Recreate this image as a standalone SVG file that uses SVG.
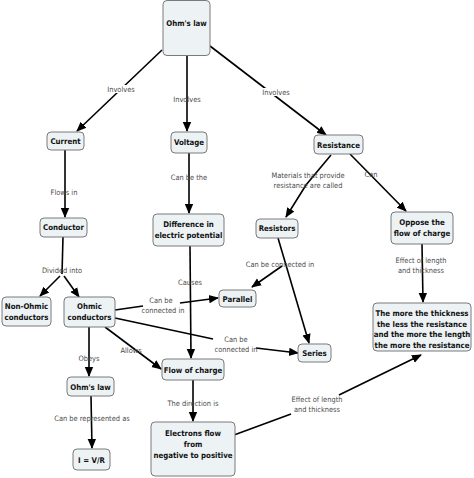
<svg xmlns="http://www.w3.org/2000/svg" width="474" height="478" viewBox="0 0 474 478">
<defs>
<marker id="ah" markerUnits="userSpaceOnUse" markerWidth="10" markerHeight="10" viewBox="0 0 10 10" refX="9" refY="5" orient="auto">
<path d="M0,0.8 L10,5 L0,9.2 Z" fill="#000"/>
</marker>
<style>
.n rect{fill:#edf2f5;stroke:#7a7a7a;stroke-width:1}
.n text{font-family:"DejaVu Sans Condensed","DejaVu Sans",sans-serif;font-weight:bold;font-size:7.8px;fill:#111;text-anchor:middle}
.c path{fill:none;stroke:#000;stroke-width:1.6}
.c .a{marker-end:url(#ah)}
.l rect{fill:#fff}
.l text{font-family:"DejaVu Sans Condensed","DejaVu Sans",sans-serif;font-size:7.4px;fill:#4a4a4a;text-anchor:middle}
</style>
</defs>
<rect width="474" height="478" fill="#fff"/>
<g id="connectors" class="c">
<path class="a" d="M162,50 L77,131"/>
<path class="a" d="M187,56 L187,131"/>
<path class="a" d="M210,46 L326,135"/>
<path class="a" d="M65,150 L65,217"/>
<path class="a" d="M189,153 L189,213"/>
<path d="M63,237 L62,274"/>
<path class="a" d="M60,276 L40,296"/>
<path class="a" d="M64,276 L79,297"/>
<path class="a" d="M331,155 L306,185 L286,217"/>
<path class="a" d="M350,154 L406,211"/>
<path class="a" d="M422,244 L423,302"/>
<path class="a" d="M278,238 L309,343"/>
<path class="a" d="M282,266 L252,287"/>
<path class="a" d="M190,246 L191,358"/>
<path d="M115,310 L143,306"/>
<path class="a" d="M180,303 L218,298"/>
<path d="M115,318 L213,339"/>
<path class="a" d="M256,348 L298,353"/>
<path class="a" d="M89,327 L89,376"/>
<path class="a" d="M105,327 L161,369"/>
<path class="a" d="M91,396 L92,448"/>
<path class="a" d="M193,380 L193,421"/>
<path d="M234,435 L291,414"/>
<path class="a" d="M339,395 L421,355"/>
</g>
<g id="labels" class="l">
<rect x="106" y="85" width="30" height="8"/>
<rect x="263" y="88" width="28" height="8"/>
<text x="121" y="91.5">Involves</text>
<text x="187" y="101.5">Involves</text>
<text x="276" y="94.5">Involves</text>
<text x="64" y="194.5">Flows in</text>
<text x="189" y="179.5">Can be the</text>
<text x="62" y="272.5">Divided into</text>
<text x="308" y="177.5">Materials that provide</text>
<text x="308" y="188">resistance are called</text>
<text x="371" y="176.5">Can</text>
<text x="421" y="262.5">Effect of length</text>
<text x="421" y="273">and thickness</text>
<text x="280" y="266.5">Can be connected in</text>
<text x="190" y="284.5">Causes</text>
<text x="161" y="302.5">Can be</text>
<text x="163" y="313">connected in</text>
<text x="236" y="341.5">Can be</text>
<text x="236" y="352">connected in</text>
<text x="89" y="360.5">Obeys</text>
<text x="131" y="352.5">Allows</text>
<text x="92" y="420.5">Can be represented as</text>
<text x="193" y="405.5">The direction is</text>
<text x="317" y="401.5">Effect of length</text>
<text x="317" y="412">and thickness</text>
</g>
<g id="ohms-law" class="n"><rect x="163" y="0.5" width="47" height="55" rx="4"/><text x="186.5" y="26">Ohm's law</text></g>
<g id="current" class="n"><rect x="47" y="132" width="37" height="18" rx="4"/><text x="65.5" y="144">Current</text></g>
<g id="voltage" class="n"><rect x="171" y="132" width="36" height="21" rx="4"/><text x="189" y="145">Voltage</text></g>
<g id="resistance" class="n"><rect x="314" y="135" width="49" height="19" rx="4"/><text x="338.5" y="147.5">Resistance</text></g>
<g id="conductor" class="n"><rect x="40" y="218" width="47" height="19" rx="4"/><text x="63.5" y="230">Conductor</text></g>
<g id="difference" class="n"><rect x="153" y="214" width="71" height="32" rx="4"/><text x="188.5" y="227">Difference in</text><text x="188.5" y="238">electric potential</text></g>
<g id="non-ohmic" class="n"><rect x="2" y="297" width="49" height="29" rx="4"/><text x="26.5" y="309">Non-Ohmic</text><text x="26.5" y="320">conductors</text></g>
<g id="ohmic" class="n"><rect x="64" y="297" width="51" height="30" rx="4"/><text x="89.5" y="309">Ohmic</text><text x="89.5" y="320">conductors</text></g>
<g id="resistors" class="n"><rect x="256" y="219" width="42" height="19" rx="4"/><text x="277" y="231">Resistors</text></g>
<g id="oppose" class="n"><rect x="391" y="212" width="62" height="32" rx="4"/><text x="422" y="225">Oppose the</text><text x="422" y="235.5">flow of charge</text></g>
<g id="parallel" class="n"><rect x="219" y="290" width="37" height="17" rx="4"/><text x="237.5" y="301.5">Parallel</text></g>
<g id="series" class="n"><rect x="298" y="344" width="33" height="18" rx="4"/><text x="314.5" y="356">Series</text></g>
<g id="thickness" class="n"><rect x="373" y="303" width="98" height="48" rx="4"/><text x="422" y="316">The more the thickness</text><text x="422" y="326.5">the less the resistance</text><text x="422" y="337">and the more the length</text><text x="422" y="347.5">the more the resistance</text></g>
<g id="flow" class="n"><rect x="162" y="359" width="62" height="21" rx="4"/><text x="193" y="372.5">Flow of charge</text></g>
<g id="ohms-law-2" class="n"><rect x="67" y="377" width="47" height="19" rx="4"/><text x="90.5" y="389.5">Ohm's law</text></g>
<g id="ivr" class="n"><rect x="73" y="449" width="37" height="21" rx="4"/><text x="91.5" y="462.5">I = V/R</text></g>
<g id="electrons" class="n"><rect x="151" y="422" width="84" height="54" rx="4"/><text x="193" y="436">Electrons flow</text><text x="193" y="447">from</text><text x="193" y="457.5">negative to positive</text></g>
</svg>
